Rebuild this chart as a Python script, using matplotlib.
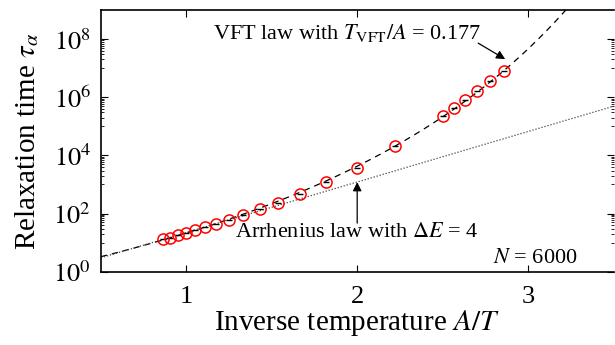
import numpy as np
import matplotlib
matplotlib.use("Agg")
import matplotlib.pyplot as plt
from matplotlib.ticker import FixedLocator, NullFormatter

plt.rcParams['font.family'] = ['Liberation Serif', 'DejaVu Serif']
plt.rcParams['mathtext.fontset'] = 'stix'

# data (inverse temperature, relaxation time)
inv_T = [0.866, 0.907, 0.953, 1.0, 1.052, 1.111, 1.175, 1.25, 1.333, 1.43,
         1.538, 1.667, 1.818, 2.0, 2.222, 2.5, 2.564, 2.632, 2.703, 2.778, 2.857]
log_tau = [1.12, 1.17, 1.26, 1.33, 1.43, 1.54, 1.65, 1.79, 1.95, 2.14,
           2.36, 2.67, 3.08, 3.56, 4.32, 5.35, 5.63, 5.90, 6.21, 6.55, 6.91]
tau = [10 ** v for v in log_tau]

# fit parameters
T_vft = 0.177
vft_a, vft_b = -0.155, 1.222
arr_c, dE = -0.39, 4.0

fig = plt.figure(figsize=(6.15, 3.45), dpi=100)
ax = fig.add_axes([0.164, 0.2125, 0.8336, 0.7585])

xx = np.linspace(0.5, 3.5, 600)
x_vft = xx[xx < 1 / T_vft - 0.3]
y_vft = 10 ** (vft_a + vft_b * x_vft / (1 - T_vft * x_vft))
ax.plot(x_vft, y_vft, ls=(0, (5, 4)), color='black', lw=0.9)
ax.plot(xx, 10 ** (arr_c + dE * xx / np.log(10)), ls=(0, (1, 1.5)), color='#444444', lw=0.9)

ax.plot(inv_T, tau, ls='none', marker='_', color='black', ms=5, mew=1.0)
ax.plot(inv_T, tau, ls='none', marker='o', mfc='none', mec='red', ms=8, mew=1.1)

ax.set_yscale('log')
ax.set_xlim(0.5, 3.5)
ax.set_ylim(1, 1e9)
ax.set_xticks([1, 2, 3])
ax.set_xticklabels(['1', '2', '3'])
ax.set_yticks([1, 1e2, 1e4, 1e6, 1e8])
ax.set_yticklabels([r'$10^{0}$', r'$10^{2}$', r'$10^{4}$', r'$10^{6}$', r'$10^{8}$'])
minors = [k * 10.0 ** e for e in (1, 3, 5, 7) for k in range(1, 10)]
ax.yaxis.set_minor_locator(FixedLocator(minors))
ax.yaxis.set_minor_formatter(NullFormatter())
ax.xaxis.set_minor_locator(FixedLocator([]))

ax.tick_params(which='both', direction='in', top=True, right=True, labelsize=19)
ax.tick_params(axis='x', pad=10)
ax.tick_params(axis='y', pad=7)
ax.tick_params(which='major', length=5, width=0.8)
ax.tick_params(which='minor', length=2.5, width=0.6)
for s in ax.spines.values():
    s.set_linewidth(1.2)
ax.spines['right'].set_visible(False)

ax.set_xlabel(r'Inverse temperature $A/T$', fontsize=21, labelpad=0)
ax.set_ylabel(r'Relaxation time $\tau_\alpha$', fontsize=21, labelpad=9)

ax.text(2.726, 10 ** 8.2, r'VFT law with $T_{\rm VFT}/A$ = 0.177', fontsize=16, ha='right', va='center')
ax.annotate('', xy=(2.866, 10 ** 7.31), xytext=(2.708, 10 ** 7.86),
            arrowprops=dict(arrowstyle='-|>', color='black', lw=0.9, mutation_scale=13, shrinkA=0, shrinkB=0))
ax.text(2.0, 10 ** 1.36, r'Arrhenius law with $\Delta E$ = 4', fontsize=16, ha='center', va='center')
ax.annotate('', xy=(2.0, 10 ** 3.08), xytext=(2.0, 10 ** 1.67),
            arrowprops=dict(arrowstyle='-|>', color='black', lw=0.9, mutation_scale=13, shrinkA=0, shrinkB=0))
ax.text(3.29, 10 ** 0.47, r'$N$ = 6000', fontsize=16, ha='right', va='center')

fig.savefig('out.png', dpi=100)
